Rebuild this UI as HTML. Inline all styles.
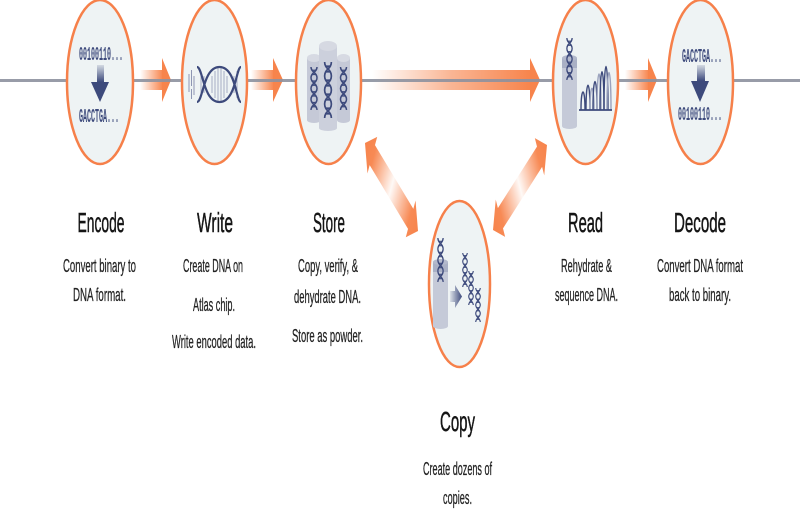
<!DOCTYPE html>
<html>
<head>
<meta charset="utf-8">
<style>
  html,body{margin:0;padding:0;background:#fff;}
  svg{display:block;}
  .t{font-family:"Liberation Sans",sans-serif;font-size:28px;fill:#151515;stroke:#151515;stroke-width:0.5;text-anchor:middle;}
  .s{font-family:"Liberation Sans",sans-serif;font-size:18px;fill:#222;stroke:#222;stroke-width:0.25;text-anchor:middle;}
  .m{font-family:"Liberation Mono",monospace;font-size:19px;font-weight:bold;fill:#3d4a7c;text-anchor:middle;}
</style>
</head>
<body>
<svg width="800" height="512" viewBox="0 0 800 512" xmlns="http://www.w3.org/2000/svg">
  <defs>
    <linearGradient id="ga1" gradientUnits="userSpaceOnUse" x1="140" y1="0" x2="163" y2="0">
      <stop offset="0" stop-color="#f7844c" stop-opacity="0"/>
      <stop offset="1" stop-color="#f7844c" stop-opacity="1"/>
    </linearGradient>
    <linearGradient id="ga2" gradientUnits="userSpaceOnUse" x1="251" y1="0" x2="274" y2="0">
      <stop offset="0" stop-color="#f7844c" stop-opacity="0"/>
      <stop offset="1" stop-color="#f7844c" stop-opacity="1"/>
    </linearGradient>
    <linearGradient id="ga3" gradientUnits="userSpaceOnUse" x1="372" y1="0" x2="531" y2="0">
      <stop offset="0" stop-color="#f7844c" stop-opacity="0"/>
      <stop offset="0.5" stop-color="#f7844c" stop-opacity="0.6"/>
      <stop offset="1" stop-color="#f7844c" stop-opacity="1"/>
    </linearGradient>
    <linearGradient id="ga4" gradientUnits="userSpaceOnUse" x1="625" y1="0" x2="649" y2="0">
      <stop offset="0" stop-color="#f7844c" stop-opacity="0"/>
      <stop offset="1" stop-color="#f7844c" stop-opacity="1"/>
    </linearGradient>
    <linearGradient id="gd1" gradientUnits="userSpaceOnUse" x1="0" y1="0" x2="159.1" y2="0">
      <stop offset="0" stop-color="#f7844c" stop-opacity="1"/>
      <stop offset="0.16" stop-color="#f7844c" stop-opacity="0.95"/>
      <stop offset="0.5" stop-color="#f7844c" stop-opacity="0.05"/>
      <stop offset="0.84" stop-color="#f7844c" stop-opacity="0.95"/>
      <stop offset="1" stop-color="#f7844c" stop-opacity="1"/>
    </linearGradient>
    <linearGradient id="gd2" gradientUnits="userSpaceOnUse" x1="0" y1="0" x2="159.5" y2="0">
      <stop offset="0" stop-color="#f7844c" stop-opacity="1"/>
      <stop offset="0.16" stop-color="#f7844c" stop-opacity="0.95"/>
      <stop offset="0.5" stop-color="#f7844c" stop-opacity="0.05"/>
      <stop offset="0.84" stop-color="#f7844c" stop-opacity="0.95"/>
      <stop offset="1" stop-color="#f7844c" stop-opacity="1"/>
    </linearGradient>
    <linearGradient id="gdown" x1="0" y1="0" x2="0" y2="1">
      <stop offset="0" stop-color="#3d4a7c" stop-opacity="0.15"/>
      <stop offset="1" stop-color="#3d4a7c" stop-opacity="1"/>
    </linearGradient>
    <linearGradient id="gright" x1="0" y1="0" x2="1" y2="0">
      <stop offset="0" stop-color="#3d4a7c" stop-opacity="0.1"/>
      <stop offset="1" stop-color="#3d4a7c" stop-opacity="1"/>
    </linearGradient>
    <symbol id="dna" viewBox="0 0 8 40" preserveAspectRatio="none">
      <path d="M1,0 C1,5 7,5 7,10 C7,15 1,15 1,20 C1,25 7,25 7,30 C7,35 1,35 1,40" fill="none" stroke="#3d4a7c" stroke-width="1.5"/>
      <path d="M7,0 C7,5 1,5 1,10 C1,15 7,15 7,20 C7,25 1,25 1,30 C1,35 7,35 7,40" fill="none" stroke="#3d4a7c" stroke-width="1.5"/>
      <path d="M2,3H6M2,7H6M2,13H6M2,17H6M2,23H6M2,27H6M2,33H6M2,37H6" stroke="#3d4a7c" stroke-width="1.1"/>
    </symbol>
  </defs>

  <!-- horizontal arrows -->
  <rect x="140" y="70" width="23" height="20" fill="url(#ga1)"/>
  <polygon points="162,58 171,80 162,102" fill="#f7844c"/>
  <rect x="251" y="70" width="23" height="20" fill="url(#ga2)"/>
  <polygon points="273,58 283,80 273,102" fill="#f7844c"/>
  <rect x="372" y="70" width="159" height="20" fill="url(#ga3)"/>
  <polygon points="530,58 540,80 530,102" fill="#f7844c"/>
  <rect x="625" y="70" width="24" height="20" fill="url(#ga4)"/>
  <polygon points="648,58 657,80 648,102" fill="#f7844c"/>

  <!-- main line -->
  <rect x="0" y="79" width="800" height="3" fill="#8d919e" opacity="0.9"/>

  <!-- diagonal double arrows -->
  <g transform="scale(0.4,1) translate(912.5,143) rotate(33.6)">
    <polygon points="0,0 22,-22 22,-12 137.1,-12 137.1,-22 159.1,0 137.1,22 137.1,12 22,12 22,22" fill="url(#gd1)"/>
  </g>
  <g transform="scale(0.4,1) translate(1232.5,230) rotate(-32.2)">
    <polygon points="0,0 22,-22 22,-12 137.5,-12 137.5,-22 159.5,0 137.5,22 137.5,12 22,12 22,22" fill="url(#gd2)"/>
  </g>

  <!-- ellipses -->
  <g fill="#eef3f4" stroke="#f6804a" stroke-width="2.5">
    <ellipse cx="100" cy="82" rx="33" ry="82"/>
    <ellipse cx="214.5" cy="82" rx="32.5" ry="82"/>
    <ellipse cx="328.5" cy="82" rx="32.5" ry="82"/>
    <ellipse cx="585.5" cy="82" rx="32.5" ry="82"/>
    <ellipse cx="700.5" cy="82" rx="32.5" ry="82"/>
    <ellipse cx="459.5" cy="284" rx="30.5" ry="83"/>
  </g>

  <!-- Encode icon -->
  <text class="m" x="101" y="60" textLength="44" lengthAdjust="spacingAndGlyphs">00100110...</text>
  <rect x="97" y="65" width="7" height="17" fill="url(#gdown)"/>
  <polygon points="91,82 109,82 100,102" fill="#3d4a7c"/>
  <text class="m" x="99" y="122" textLength="40" lengthAdjust="spacingAndGlyphs">GACCTGA...</text>

  <!-- Decode icon -->
  <text class="m" x="702" y="62" textLength="40" lengthAdjust="spacingAndGlyphs">GACCTGA...</text>
  <rect x="697" y="65" width="8" height="16" fill="url(#gdown)"/>
  <polygon points="691,81 709,81 700,102" fill="#3d4a7c"/>
  <text class="m" x="700" y="120" textLength="44" lengthAdjust="spacingAndGlyphs">00100110...</text>

  <!-- Write icon -->
  <g stroke="#8e96b3" stroke-width="1">
    <line x1="189" y1="74" x2="189" y2="92"/>
    <line x1="191.5" y1="70" x2="191.5" y2="86"/>
    <line x1="191.5" y1="89" x2="191.5" y2="99"/>
    <line x1="194" y1="76" x2="194" y2="95"/>
  </g>
  <g stroke="#9ea6c0" stroke-width="0.9">
    <line x1="201" y1="71" x2="201" y2="98"/>
    <line x1="204" y1="76" x2="204" y2="93"/>
    <line x1="212" y1="76" x2="212" y2="93"/>
    <line x1="215" y1="71" x2="215" y2="98"/>
    <line x1="218" y1="68" x2="218" y2="101"/>
    <line x1="221" y1="68" x2="221" y2="101"/>
    <line x1="224" y1="71" x2="224" y2="98"/>
    <line x1="227" y1="76" x2="227" y2="93"/>
    <line x1="234" y1="76" x2="234" y2="93"/>
    <line x1="237" y1="71" x2="237" y2="98"/>
  </g>
  <path d="M197,67 C203,67 203,102 219.5,102 C236,102 236,67 241,67" fill="none" stroke="#3d4a7c" stroke-width="2.2"/>
  <path d="M197,102 C203,102 203,67 219.5,67 C236,67 236,102 241,102" fill="none" stroke="#3d4a7c" stroke-width="2.2"/>

  <!-- Store icon -->
  <rect x="307" y="58" width="14" height="62" fill="#c5c9d7"/>
  <ellipse cx="314" cy="120" rx="7" ry="3" fill="#c5c9d7"/>
  <ellipse cx="314" cy="58" rx="7" ry="4" fill="#d7dae3"/>
  <rect x="337" y="58" width="13" height="62" fill="#c5c9d7"/>
  <ellipse cx="343.5" cy="120" rx="6.5" ry="3" fill="#c5c9d7"/>
  <ellipse cx="343.5" cy="58" rx="6.5" ry="4" fill="#d7dae3"/>
  <rect x="319" y="46" width="18" height="82" fill="#ccd0dc"/>
  <ellipse cx="328" cy="128" rx="9" ry="3" fill="#ccd0dc"/>
  <ellipse cx="328" cy="46" rx="9" ry="5" fill="#d6d9e2"/>
  <use href="#dna" x="310" y="67" width="8" height="43"/>
  <use href="#dna" x="323.5" y="62" width="9" height="56"/>
  <use href="#dna" x="339.5" y="67" width="8" height="43"/>

  <!-- Read icon -->
  <rect x="562" y="58" width="15" height="68" fill="#c5cad8"/>
  <ellipse cx="569.5" cy="126" rx="7.5" ry="3" fill="#c5cad8"/>
  <rect x="562" y="58" width="15" height="10" fill="#a9b0c5"/>
  <ellipse cx="569.5" cy="58" rx="7.5" ry="3" fill="#b3b9cc"/>
  <use href="#dna" x="566" y="38" width="7" height="42"/>
  <g fill="none" stroke-width="1.4">
    <path d="M581,110 C581,86 585,86 585,110" stroke="#3d4a7c"/>
    <path d="M586,110 C586,77 590,77 590,110" stroke="#3d4a7c"/>
    <path d="M590,110 C590,81 594,81 594,110" stroke="#9aa2bd"/>
    <path d="M593,110 C593,72 597,72 597,110" stroke="#3d4a7c"/>
    <path d="M597,110 C597,62 601,62 601,110" stroke="#9aa2bd"/>
    <path d="M600,110 C600,59 604,59 604,110" stroke="#3d4a7c"/>
    <path d="M604,110 C604,52 608,52 608,110" stroke="#3d4a7c"/>
    <path d="M607,110 C607,60 611,60 611,110" stroke="#9aa2bd"/>
  </g>
  <line x1="579" y1="110" x2="612" y2="110" stroke="#3d4a7c" stroke-width="1.8"/>

  <!-- Copy icon -->
  <rect x="433" y="262" width="15" height="64" fill="#c5cad8"/>
  <ellipse cx="440.5" cy="326" rx="7.5" ry="3" fill="#c5cad8"/>
  <rect x="433" y="262" width="15" height="10" fill="#a9b0c5"/>
  <ellipse cx="440.5" cy="262" rx="7.5" ry="3" fill="#b3b9cc"/>
  <use href="#dna" x="437" y="238" width="7" height="44"/>
  <polygon points="450,291 455,291 455,285 462,296.5 455,308 455,302 450,302" fill="url(#gright)"/>
  <use href="#dna" x="462" y="253" width="6" height="34"/>
  <use href="#dna" x="468" y="271" width="6" height="34"/>
  <use href="#dna" x="475" y="288" width="6" height="34"/>

  <!-- Titles -->
  <text class="t" x="101" y="232" textLength="47" lengthAdjust="spacingAndGlyphs">Encode</text>
  <text class="t" x="215" y="232" textLength="36" lengthAdjust="spacingAndGlyphs">Write</text>
  <text class="t" x="329" y="232" textLength="32" lengthAdjust="spacingAndGlyphs">Store</text>
  <text class="t" x="585.5" y="232" textLength="35" lengthAdjust="spacingAndGlyphs">Read</text>
  <text class="t" x="700" y="232" textLength="52" lengthAdjust="spacingAndGlyphs">Decode</text>
  <text class="t" x="457.5" y="431" textLength="35" lengthAdjust="spacingAndGlyphs">Copy</text>

  <!-- Subtitles -->
  <text class="s" x="99.5" y="272" textLength="73" lengthAdjust="spacingAndGlyphs">Convert binary to</text>
  <text class="s" x="99.5" y="301" textLength="53" lengthAdjust="spacingAndGlyphs">DNA format.</text>

  <text class="s" x="213" y="272" textLength="60" lengthAdjust="spacingAndGlyphs">Create DNA on</text>
  <text class="s" x="214" y="311" textLength="42" lengthAdjust="spacingAndGlyphs">Atlas chip.</text>
  <text class="s" x="214" y="348" textLength="84" lengthAdjust="spacingAndGlyphs">Write encoded data.</text>

  <text class="s" x="328" y="272" textLength="60" lengthAdjust="spacingAndGlyphs">Copy, verify, &amp;</text>
  <text class="s" x="327.5" y="303" textLength="67" lengthAdjust="spacingAndGlyphs">dehydrate DNA.</text>
  <text class="s" x="327.5" y="342" textLength="71" lengthAdjust="spacingAndGlyphs">Store as powder.</text>

  <text class="s" x="586.5" y="272" textLength="51" lengthAdjust="spacingAndGlyphs">Rehydrate &amp;</text>
  <text class="s" x="586.5" y="301" textLength="63" lengthAdjust="spacingAndGlyphs">sequence DNA.</text>

  <text class="s" x="700" y="272" textLength="86" lengthAdjust="spacingAndGlyphs">Convert DNA format</text>
  <text class="s" x="700" y="301" textLength="62" lengthAdjust="spacingAndGlyphs">back to binary.</text>

  <text class="s" x="457.5" y="475" textLength="69" lengthAdjust="spacingAndGlyphs">Create dozens of</text>
  <text class="s" x="457.5" y="504" textLength="29" lengthAdjust="spacingAndGlyphs">copies.</text>
</svg>
</body>
</html>
